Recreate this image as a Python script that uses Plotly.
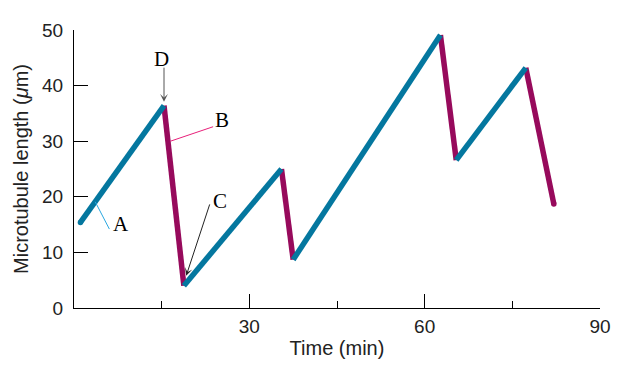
import plotly.graph_objects as go

# Data: turning points of the microtubule length trace
times = [1.1, 15.4, 18.8, 35.5, 37.5, 62.7, 65.4, 77.3, 82.1]
lengths = [15.4, 36.4, 4.0, 25.0, 8.7, 49.1, 26.6, 43.2, 18.7]
x_ticks = [30, 60, 90]
x_minor_ticks = [15, 45, 75]
y_ticks = [0, 10, 20, 30, 40, 50]

BLUE = "#04779f"
MAGENTA = "#970a5c"

grow_x, grow_y, shrink_x, shrink_y = [], [], [], []
for i in range(len(times) - 1):
    seg_x = [times[i], times[i + 1], None]
    seg_y = [lengths[i], lengths[i + 1], None]
    if lengths[i + 1] > lengths[i]:
        grow_x += seg_x
        grow_y += seg_y
    else:
        shrink_x += seg_x
        shrink_y += seg_y

fig = go.Figure()
fig.add_trace(go.Scatter(x=shrink_x, y=shrink_y, mode="lines",
                         line=dict(color=MAGENTA, width=5.5), hoverinfo="skip"))
fig.add_trace(go.Scatter(x=grow_x, y=grow_y, mode="lines",
                         line=dict(color=BLUE, width=5.5), hoverinfo="skip"))
# round caps at the ends
fig.add_trace(go.Scatter(x=[times[0]], y=[lengths[0]], mode="markers",
                         marker=dict(color=BLUE, size=5.5), hoverinfo="skip"))
fig.add_trace(go.Scatter(x=[times[-1]], y=[lengths[-1]], mode="markers",
                         marker=dict(color=MAGENTA, size=5.5), hoverinfo="skip"))

serif = dict(family="Liberation Serif", size=21, color="black")

# Leader lines
fig.add_shape(type="line", x0=6.05, y0=14.2, x1=3.63, y1=19.1,
              line=dict(color="#2aa7e0", width=1))
fig.add_shape(type="line", x0=23.8, y0=32.6, x1=16.5, y1=30.0,
              line=dict(color="#e8207a", width=1))
# Arrows
fig.add_annotation(x=19.2, y=5.8, ax=23.3, ay=18.9, axref="x", ayref="y",
                   xref="x", yref="y", text="", showarrow=True,
                   arrowhead=3, arrowsize=1.3, arrowwidth=1, arrowcolor="#222")
fig.add_annotation(x=15.4, y=37.1, ax=15.4, ay=43.5, axref="x", ayref="y",
                   xref="x", yref="y", text="", showarrow=True,
                   arrowhead=3, arrowsize=1.3, arrowwidth=1, arrowcolor="#555")
# Labels
for lab, lx, ly in [("A", 8.1, 15.1), ("B", 25.4, 33.8), ("C", 25.0, 19.3), ("D", 15.0, 44.8)]:
    fig.add_annotation(x=lx, y=ly, xref="x", yref="y", text=lab,
                       showarrow=False, font=serif)

fig.update_layout(
    width=635, height=366,
    margin=dict(l=61, r=43, t=14, b=66),
    paper_bgcolor="white", plot_bgcolor="white",
    showlegend=False,
    font=dict(family="Liberation Sans", size=19, color="#222"),
)
fig.update_xaxes(
    range=[0, 90], showline=True, linecolor="black", linewidth=1,
    showgrid=False, zeroline=False,
    tickmode="array", tickvals=x_ticks, ticktext=[str(v) for v in x_ticks],
    ticks="inside", ticklen=14, tickcolor="black", tickwidth=1,
    minor=dict(tickmode="array", tickvals=x_minor_ticks, ticks="inside",
               ticklen=7, tickcolor="black", tickwidth=1),
    ticklabelstandoff=1,
    title=dict(text="Time (min)", font=dict(size=20), standoff=5),
    fixedrange=True,
)
fig.update_yaxes(
    range=[0, 50], showline=True, linecolor="black", linewidth=1,
    showgrid=False, zeroline=False,
    tickmode="array", tickvals=y_ticks, ticktext=[str(v) for v in y_ticks],
    ticks="inside", ticklen=14, tickcolor="black", tickwidth=1,
    ticklabelstandoff=6,
    title=dict(text="Microtubule length (<i>μ</i>m)", font=dict(size=20), standoff=8),
    fixedrange=True,
)

fig.write_html("out.html", config={"displayModeBar": False})
